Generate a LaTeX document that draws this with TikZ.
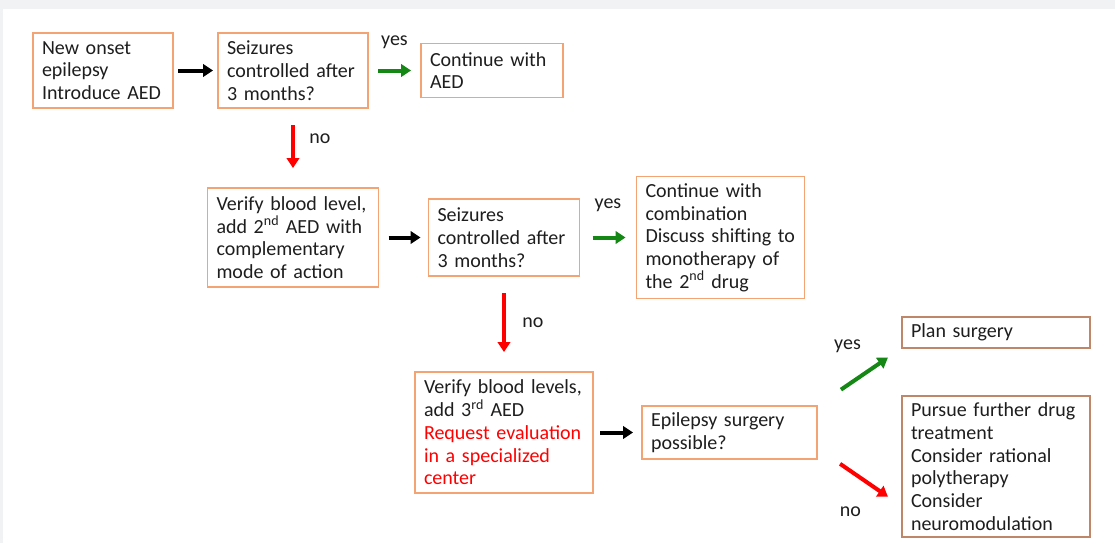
\documentclass[tikz,border=0pt]{standalone}
\usepackage{fontspec}
\setmainfont{Carlito}
\usetikzlibrary{positioning, arrows.meta}
\definecolor{boxorange}{RGB}{244,164,116}
\definecolor{boxbrown}{RGB}{192,134,106}
\definecolor{arrowgreen}{RGB}{20,135,20}
\definecolor{arrowred}{RGB}{255,0,0}
\definecolor{txtgray}{RGB}{30,30,30}
\definecolor{bggray}{RGB}{241,242,244}
\newcommand{\boxfont}{\fontsize{20}{22.7}\selectfont}
\tikzstyle{block} = [rectangle, draw=boxorange, line width=1.4pt, fill=white, align=left, inner xsep=9pt, inner ysep=2pt, outer sep=0pt, font=\boxfont, text=txtgray]
\tikzstyle{endblock} = [block, draw=boxbrown]
\tikzstyle{arrow} = [line width=4pt, -{Triangle[length=10pt,width=12.5pt]}]
\tikzstyle{lbl} = [font=\boxfont, text=txtgray]

\begin{document}
\begin{tikzpicture}[node distance=1cm]
        % background and margins
        \useasboundingbox (0,0) rectangle (1115pt,-543pt);
        \fill [bggray] (0,0) rectangle (1115pt,-543pt);
        \fill [white] (3pt,-9pt) rectangle (1115pt,-543pt);

        \node (step1) [block, text width=122pt, minimum height=75pt] at (103pt,-70.5pt) {
            New onset\\epilepsy\\Introduce AED
        };

        \node (step2) [block, right=45pt of step1, text width=132pt, minimum height=75pt] {
            Seizures\\controlled after\\3 months?
        };

        \node (step3) [block, right=53pt of step2, text width=124pt, minimum height=54pt] {
            Continue with\\AED
        };

        \node (step4) [block, below=80pt of step2, text width=153pt, minimum height=99pt] {
            Verify blood level,\\add 2\textsuperscript{nd} AED with\\complementary\\mode of action
        };

        \node (step5) [block, right=50pt of step4, text width=133pt, minimum height=77pt] {
            Seizures\\controlled after\\3 months?
        };

        \node (step6) [block, right=57pt of step5, text width=150pt, minimum height=122pt] {
            Continue with\\combination\\Discuss shifting to\\monotherapy of\\the 2\textsuperscript{nd} drug
        };

        \node (step7) [block, below=96pt of step5, text width=160pt, minimum height=121pt] {
            Verify blood levels,\\add 3\textsuperscript{rd} AED\\\textcolor{arrowred}{Request evaluation}\\\textcolor{arrowred}{in a specialized}\\\textcolor{arrowred}{center}
        };

        \node (step8) [block, right=49pt of step7, text width=157pt, minimum height=53pt] {
            Epilepsy surgery\\possible?
        };

        \node (step9) [endblock, above right=58pt and 85pt of step8.north east, text width=170pt, minimum height=31pt] {
            Plan surgery
        };

        \node (step10) [endblock, below=48pt of step9, text width=170pt, minimum height=141pt] {
            Pursue further drug\\treatment\\Consider rational\\polytherapy\\Consider\\neuromodulation
        };

        \draw [arrow, shorten <=5pt, shorten >=5pt] (step1) -- (step2);
        \draw [arrow, arrowgreen, shorten <=10pt, shorten >=10pt] (step2) -- node[lbl, yshift=28pt] {yes} (step3);
        \draw [arrow, arrowred, shorten <=17pt, shorten >=20pt] (step2) -- node[lbl, xshift=27pt, yshift=9pt] {no} (step4);
        \draw [arrow, shorten <=10pt, shorten >=8pt] (step4) -- (step5);
        \draw [arrow, arrowgreen, shorten <=13pt, shorten >=11pt] (step5) -- node[lbl, yshift=32pt] {yes} (step6);
        \draw [arrow, arrowred, shorten <=17pt, shorten >=20pt] (step5) -- node[lbl, xshift=29pt, yshift=1pt] {no} (step7);
        \draw [arrow, shorten <=7pt, shorten >=9pt] (step7) -- (step8);
        \draw [arrow, arrowgreen, shorten <=29pt, shorten >=17pt] (step8.north east) -- node[lbl, xshift=-12pt, yshift=31pt] {yes} (step9.south west);
        \draw [arrow, arrowred, shorten <=28pt, shorten >=17pt] (step8.-10) -- node[lbl, xshift=-9pt, yshift=-35pt] {no} (step10.203);
    \end{tikzpicture}
\end{document}
